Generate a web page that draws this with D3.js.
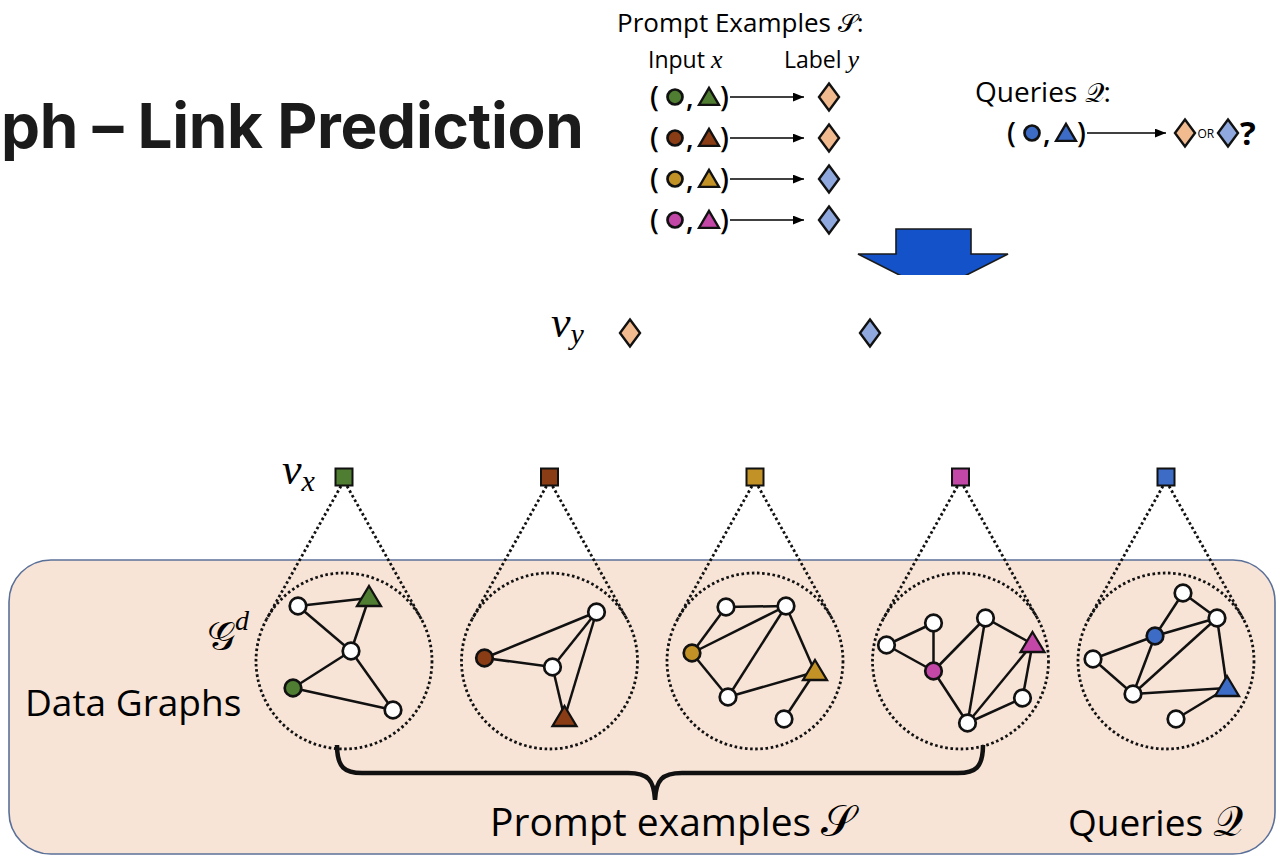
<!DOCTYPE html>
<html><head><meta charset="utf-8">
<script src="https://cdn.jsdelivr.net/npm/d3@7"></script>
<style>body{margin:0;background:#fff}svg{display:block}</style>
</head><body><svg id="c" width="1276" height="856"></svg>
<script>
// ---------- data ----------
const exampleColors = ["#4f7d31", "#8a3d14", "#c39227", "#c247a6"];
const exampleLabels = ["orange", "orange", "blue", "blue"];
const queryColor = "#3c6cc6";
const labelColors = {orange: "#f2ba8f", blue: "#8fa9de"};
const labelClasses = ["orange", "blue"];
const graphColors = ["#4f7d31", "#8a3d14", "#c39227", "#c247a6", "#3c6cc6"];
// node: [dx, dy, type]  (w = plain node, c = source node, t = target node), offsets relative to circle centre
const graphNodes = [
  [[-46,-55,"w"],[25,-63,"t"],[7,-10,"w"],[-51,27,"c"],[49,49,"w"]],
  [[-65,-3,"c"],[47,-49,"w"],[3,6,"w"],[15,57,"t"]],
  [[-29,-54,"w"],[31,-55,"w"],[-63,-8,"c"],[60,11,"t"],[-27,36,"w"],[29,58,"w"]],
  [[-74,-16,"w"],[-27,-38,"w"],[-27,10,"c"],[25,-43,"w"],[72,-17,"t"],[62,37,"w"],[7,62,"w"]],
  [[17,-68,"w"],[51,-43,"w"],[-11,-25,"c"],[-73,-2,"w"],[-33,33,"w"],[61,27,"t"],[10,58,"w"]]
];
const graphEdges = [
  [[0,1],[0,2],[2,1],[2,3],[2,4],[3,4]],
  [[0,1],[0,2],[2,1],[2,3],[1,3]],
  [[0,1],[0,2],[2,1],[2,4],[4,1],[1,3],[4,3],[3,5]],
  [[0,1],[0,2],[1,2],[2,3],[2,6],[3,6],[3,4],[4,6],[4,5],[5,6]],
  [[0,1],[0,2],[2,1],[3,2],[3,4],[4,2],[4,1],[4,5],[1,5],[5,6]]
];
const titleText = "ph \u2013 Link Prediction";

// ---------- setup ----------
const svg = d3.select("#c");
const SANS = "'Open Sans', Lato, sans-serif";
const SCRIPT = "'DejaVu Serif', 'DejaVu Sans', serif";
const MATHI = "'Liberation Serif', 'DejaVu Serif', serif";
const defs = svg.append("defs");
defs.append("marker").attr("id","ah").attr("viewBox","0 0 10 8").attr("refX",10).attr("refY",4)
  .attr("markerWidth",11).attr("markerHeight",9).attr("markerUnits","userSpaceOnUse").attr("orient","auto")
  .append("path").attr("d","M0,0 L10,4 L0,8 Z").attr("fill","#000");
defs.append("clipPath").attr("id","arrowClip").append("rect").attr("x",0).attr("y",0).attr("width",1276).attr("height",275);

const rowY = d3.scalePoint().domain(d3.range(exampleColors.length)).range([97, 220]);
const gx = d3.scalePoint().domain(d3.range(graphColors.length)).range([344, 1166]);
const off = d3.scaleLinear().domain([-100, 100]).range([-100, 100]);
const vyX = d3.scalePoint().domain(labelClasses).range([630, 870]);
const CY = 661, R = 88, SQY = 477;

function diamond(g, x, y, fill) {
  g.append("path").attr("d", `M${x},${y-13.5} L${x+10},${y} L${x},${y+13.5} L${x-10},${y} Z`)
    .attr("fill", fill).attr("stroke", "#111").attr("stroke-width", 2.4).attr("stroke-linejoin","miter");
}
function tri(g, x, y, fill, w=21, h=18) {
  g.append("path").attr("d", `M${x},${y-h*0.6} L${x+w/2},${y+h*0.4} L${x-w/2},${y+h*0.4} Z`)
    .attr("fill", fill).attr("stroke", "#111").attr("stroke-width", 2.3).attr("stroke-linejoin","miter");
}
function dot(g, x, y, fill, r=7.5) {
  g.append("circle").attr("cx", x).attr("cy", y).attr("r", r)
    .attr("fill", fill).attr("stroke", "#111").attr("stroke-width", 2.7);
}
function pairRow(g, x0, y, color, arrowEnd) {
  const t = (x, s) => g.append("text").attr("x", x).attr("y", y + 10).attr("font-family", SANS)
    .attr("font-size", 28).attr("font-weight", 600).text(s);
  t(x0, "(");
  dot(g, x0 + 25, y, color, 7.5);
  t(x0 + 36, ",");
  tri(g, x0 + 59, y + 1, color, 20, 17);
  t(x0 + 70, ")");
  g.append("line").attr("x1", x0 + 80).attr("x2", arrowEnd).attr("y1", y).attr("y2", y)
    .attr("stroke", "#000").attr("stroke-width", 1.7).attr("marker-end", "url(#ah)");
}

// ---------- title ----------
svg.append("text").attr("x", 1).attr("y", 148)
  .attr("font-family", "Inter, Roboto, sans-serif").attr("font-weight", 700).attr("font-size", 62)
  .attr("fill", "#1b1b1b").attr("letter-spacing", -0.3).text(titleText);

// ---------- prompt examples block ----------
const pe = svg.append("g");
const peT = pe.append("text").attr("x", 617).attr("y", 32).attr("font-family", SANS).attr("font-size", 26);
peT.append("tspan").text("Prompt Examples ");
peT.append("tspan").attr("font-family", SCRIPT).attr("font-size", 25).text("\u{1D4AE}");
peT.append("tspan").text(":");
const inT = pe.append("text").attr("x", 648).attr("y", 68).attr("font-family", SANS).attr("font-size", 23);
inT.append("tspan").text("Input ");
inT.append("tspan").attr("font-family", MATHI).attr("font-style", "italic").attr("font-size", 26).text("x");
const lbT = pe.append("text").attr("x", 784).attr("y", 68).attr("font-family", SANS).attr("font-size", 23);
lbT.append("tspan").text("Label ");
lbT.append("tspan").attr("font-family", MATHI).attr("font-style", "italic").attr("font-size", 26).text("y");
exampleColors.forEach((c, i) => {
  const y = rowY(i);
  pairRow(pe, 650, y, c, 804);
  diamond(pe, 829, y, labelColors[exampleLabels[i]]);
});

// ---------- queries block ----------
const q = svg.append("g");
const qT = q.append("text").attr("x", 975).attr("y", 102).attr("font-family", SANS).attr("font-size", 28);
qT.append("tspan").text("Queries ");
qT.append("tspan").attr("font-family", SCRIPT).attr("font-size", 27).text("\u{1D4AC}");
qT.append("tspan").text(":");
pairRow(q, 1007, 133, queryColor, 1166);
diamond(q, 1185, 133, labelColors.orange);
q.append("text").attr("x", 1197.5).attr("y", 138).attr("font-family", SANS).attr("font-size", 12).text("OR");
diamond(q, 1228, 133, labelColors.blue);
q.append("text").attr("x", 1240).attr("y", 145).attr("font-family", SANS).attr("font-weight", 700).attr("font-size", 33).text("?");

// ---------- big blue arrow ----------
svg.append("path").attr("clip-path", "url(#arrowClip)")
  .attr("d", "M896,229 L971,229 L971,254 L1008,254 L933,292 L858,254 L896,254 Z")
  .attr("fill", "#1352c9").attr("stroke", "#1a1a1a").attr("stroke-width", 1.6);

// ---------- v_y ----------
const vy = svg.append("text").attr("x", 551).attr("y", 337).attr("font-family", MATHI).attr("font-style", "italic").attr("font-size", 44);
vy.append("tspan").text("v");
vy.append("tspan").attr("font-size", 30).attr("dy", 7).text("y");
labelClasses.forEach(k => diamond(svg, vyX(k), 333, labelColors[k]));

// ---------- panel ----------
svg.append("rect").attr("x", 9).attr("y", 560).attr("width", 1266).attr("height", 294).attr("rx", 42)
  .attr("fill", "#f8e4d7").attr("stroke", "#5b7098").attr("stroke-width", 1.6);

// ---------- v_x ----------
const vx = svg.append("text").attr("x", 282).attr("y", 484).attr("font-family", MATHI).attr("font-style", "italic").attr("font-size", 44);
vx.append("tspan").text("v");
vx.append("tspan").attr("font-size", 30).attr("dy", 7).text("x");

// ---------- graphs ----------
graphColors.forEach((col, gi) => {
  const cx = gx(gi);
  const g = svg.append("g");
  const d = CY - SQY;
  const a = Math.acos(R / d);
  [-1, 1].forEach(s => {
    g.append("line").attr("x1", cx + s * 3).attr("y1", SQY + 9)
      .attr("x2", cx + s * R * Math.sin(a)).attr("y2", CY - R * Math.cos(a))
      .attr("stroke", "#111").attr("stroke-width", 2.8).attr("stroke-dasharray", "2.6 2.6");
  });
  g.append("circle").attr("cx", cx).attr("cy", CY).attr("r", R).attr("fill", "none")
    .attr("stroke", "#111").attr("stroke-width", 2.8).attr("stroke-dasharray", "2.6 2.6");
  g.append("rect").attr("x", cx - 8.5).attr("y", SQY - 8.5).attr("width", 17).attr("height", 17)
    .attr("fill", col).attr("stroke", "#111").attr("stroke-width", 2);
  const nodes = graphNodes[gi].map(([dx, dy, t]) => ({x: cx + off(dx), y: CY + off(dy), t}));
  g.selectAll("line.e").data(graphEdges[gi]).join("line").attr("class", "e")
    .attr("x1", e => nodes[e[0]].x).attr("y1", e => nodes[e[0]].y)
    .attr("x2", e => nodes[e[1]].x).attr("y2", e => nodes[e[1]].y)
    .attr("stroke", "#111").attr("stroke-width", 2.5);
  nodes.forEach(n => {
    if (n.t === "t") tri(g, n.x, n.y, col, 24, 20);
    else dot(g, n.x, n.y, n.t === "c" ? col : "#fff", 8.3);
  });
});

// G^d label
const gd = svg.append("text").attr("x", 207).attr("y", 650).attr("font-family", SCRIPT).attr("font-size", 40);
gd.append("tspan").text("\u{1D4A2}");
gd.append("tspan").attr("font-family", MATHI).attr("font-size", 28).attr("dy", -20).attr("font-style", "italic").text("d");

svg.append("text").attr("x", 25).attr("y", 716).attr("font-family", SANS).attr("font-size", 37).text("Data Graphs");

// brace
svg.append("path")
  .attr("d", "M337,745 C337,768 345,773 362,773 L628,773 C648,773 654,780 655,800 C656,780 662,773 682,773 L958,773 C975,773 983,768 983,745")
  .attr("fill", "none").attr("stroke", "#111").attr("stroke-width", 4.5);

const pl = svg.append("text").attr("x", 490).attr("y", 836).attr("font-family", SANS).attr("font-size", 39);
pl.append("tspan").text("Prompt examples ");
pl.append("tspan").attr("font-family", SCRIPT).attr("font-size", 44).text("\u{1D4AE}");
const ql = svg.append("text").attr("x", 1068).attr("y", 836).attr("font-family", SANS).attr("font-size", 37);
ql.append("tspan").text("Queries ");
ql.append("tspan").attr("font-family", SCRIPT).attr("font-size", 42).text("\u{1D4AC}");
</script></body></html>
